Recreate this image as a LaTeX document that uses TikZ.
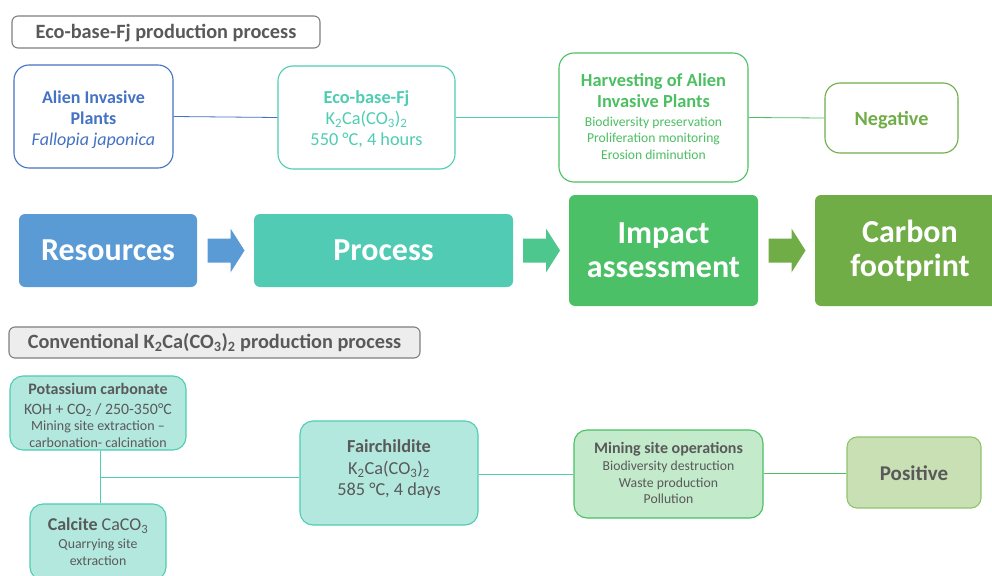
\documentclass[tikz,border=0pt]{standalone}
\usepackage{fontspec}
\setmainfont{Carlito}
\usetikzlibrary{calc}
\definecolor{cblue}{HTML}{4472C4}
\definecolor{cteal}{HTML}{4FCDB2}
\definecolor{cgreen}{HTML}{4CBF62}
\definecolor{colive}{HTML}{70AD47}
\definecolor{fres}{HTML}{5B9BD5}
\definecolor{fproc}{HTML}{52CBB5}
\definecolor{fimp}{HTML}{4CC066}
\definecolor{ltteal}{HTML}{B3E8DF}
\definecolor{ltgreen}{HTML}{C3EACB}
\definecolor{ltolive}{HTML}{C9E0B5}
\definecolor{bdolive}{HTML}{8FC46E}
\definecolor{dgray}{HTML}{595959}
\definecolor{bgray}{HTML}{7F7F7F}
\definecolor{lgray}{HTML}{EDEDED}
\definecolor{arrteal}{HTML}{4DC78E}
\tikzset{
  x=1pt, y=-1pt,
  titlebox/.style={draw=bgray, line width=1.1pt, rounded corners=6pt, text=dgray,
    font=\fontsize{20.3}{22}\selectfont\bfseries, inner sep=0pt},
  topbox/.style={draw=#1, line width=1.1pt, rounded corners=15pt, fill=white, inner sep=0pt},
  midbox/.style={fill=#1, rounded corners=6pt, text=white, align=center, inner sep=0pt,
    font=\fontsize{32}{34}\selectfont\bfseries},
  botbox/.style={fill=#1, line width=1.1pt, rounded corners=13pt, inner sep=0pt},
  lbl/.style={text=#1, align=center, inner sep=0pt},
  link/.style={line width=0.8pt, draw=#1},
}
\begin{document}
\begin{tikzpicture}
\useasboundingbox (0,0) rectangle (992,575);
\clip (0,0) rectangle (992,575);
\fill[white] (0,0) rectangle (992,575);

% ---- top section
\node[titlebox, fill=white, minimum width=308pt, minimum height=32pt] (t1) at (166,32) {};
\node[lbl=dgray, font=\fontsize{20.3}{22}\selectfont\bfseries] at ($(t1.center)+(0,1.5)$) {Eco-base-Fj production process};

\node[topbox=cblue, minimum width=159pt, minimum height=103pt] (alien) at (93.5,116.5) {};
\node[lbl=cblue, font=\fontsize{18}{21}\selectfont] at ($(alien.center)+(0,3)$)
  {\textbf{Alien Invasive}\\\textbf{Plants}\\\textit{Fallopia japonica}};
\node[topbox=cteal, minimum width=177pt, minimum height=103pt] (eco) at (366.5,117.5) {};
\node[lbl=cteal, font=\fontsize{18.3}{21}\selectfont] at ($(eco.center)+(0,2)$)
  {\textbf{Eco-base-Fj}\\K\textsubscript{2}Ca(CO\textsubscript{3})\textsubscript{2}\\550 °C, 4 hours};
\node[topbox=cgreen, minimum width=189pt, minimum height=129pt] (harv) at (653.5,117.5) {};
\node[lbl=cgreen, font=\fontsize{13.6}{16.5}\selectfont] at ($(harv.center)+(0,-1)$)
  {{\fontsize{18.4}{16.5}\selectfont\bfseries Harvesting of Alien}\\[4.5pt]
   {\fontsize{18.4}{16.5}\selectfont\bfseries Invasive Plants}\\[2pt]
   Biodiversity preservation\\Proliferation monitoring\\Erosion diminution};
\node[topbox=colive, minimum width=133pt, minimum height=70pt] (neg) at (891.5,118) {};
\node[lbl=colive, font=\fontsize{20.2}{22}\selectfont\bfseries] at ($(neg.center)+(0,2)$) {Negative};

\draw[link=cblue] (alien.east) -- (eco.west);
\draw[link=cteal] (eco.east) -- (harv.west);
\draw[link=cgreen] (harv.east) -- (neg.west);

% ---- middle section
\node[midbox=fres, minimum width=178pt, minimum height=73pt] (res) at (108,250.5) {Resources};
\node[midbox=fproc, minimum width=259pt, minimum height=73pt] (proc) at (383.5,250.5) {Process};
\node[midbox=fimp, minimum width=189pt, minimum height=111pt] (imp) at (663.5,250.5) {Impact\\assessment};
\node[midbox=colive, minimum width=190pt, minimum height=111pt] (carb) at (910,250.5) {Carbon\\footprint};

\coordinate (a1) at ($(res.east)!0.5!(proc.west)$);
\coordinate (a2) at ($(proc.east)!0.5!(imp.west)$);
\coordinate (a3) at ($(imp.east)!0.5!(carb.west)$);
\foreach \c/\col in {a1/fres, a2/arrteal, a3/colive}{
  \fill[\col] ($(\c)+(-18,-12)$) -- ($(\c)+(5,-12)$) -- ($(\c)+(5,-22)$) -- ($(\c)+(19,0)$)
     -- ($(\c)+(5,22)$) -- ($(\c)+(5,12)$) -- ($(\c)+(-18,12)$) -- cycle;
}

% ---- bottom section
\node[titlebox, fill=lgray, minimum width=411pt, minimum height=31pt] (t2) at (214.5,342.5)
  {Conventional K\textsubscript{2}Ca(CO\textsubscript{3})\textsubscript{2} production process};

\node[botbox=ltteal, draw=cteal, minimum width=176pt, minimum height=74pt] (pot) at (98,413) {};
\node[lbl=dgray, font=\fontsize{14}{16.5}\selectfont] at ($(pot.center)+(0,2.5)$)
  {{\fontsize{16}{16}\selectfont\bfseries Potassium carbonate}\\[3pt]
   {\fontsize{15.8}{16}\selectfont KOH + CO\textsubscript{2} / 250-350°C}\\
   Mining site extraction –\\carbonation- calcination};
\node[botbox=ltteal, draw=cteal, minimum width=136pt, minimum height=76pt] (cal) at (98,542) {};
\node[lbl=dgray, font=\fontsize{13.8}{17}\selectfont] at (cal.center)
  {{\fontsize{18}{17}\selectfont\textbf{Calcite} CaCO\textsubscript{3}}\\[1pt]Quarrying site\\extraction};
\node[botbox=ltteal, draw=cteal, minimum width=178pt, minimum height=104pt] (fair) at (389,473) {};
\node[lbl=dgray, font=\fontsize{18.3}{21.5}\selectfont] at ($(fair.center)+(0,-3.5)$)
  {\textbf{Fairchildite}\\K\textsubscript{2}Ca(CO\textsubscript{3})\textsubscript{2}\\585 °C, 4 days};
\node[botbox=ltgreen, draw=cgreen, minimum width=189pt, minimum height=88pt] (mine) at (668.5,474) {};
\node[lbl=dgray, font=\fontsize{13.7}{16.5}\selectfont] at ($(mine.center)+(0,-1)$)
  {{\fontsize{16}{16.5}\selectfont\bfseries Mining site operations}\\[1pt]
   Biodiversity destruction\\Waste production\\Pollution};
\node[botbox=ltolive, draw=bdolive, minimum width=134pt, minimum height=71pt, rounded corners=10pt] (pos) at (914,472.5) {};
\node[lbl=dgray, font=\fontsize{21}{22}\selectfont\bfseries] at ($(pos.center)+(0,1)$) {Positive};

\coordinate (j) at (100,477);
\draw[link=cteal] (pot.south -| j) -- (cal.north -| j);
\draw[link=cteal] (j) -- (j -| fair.west);
\draw[link=cteal] (fair.east |- 0,474) -- (mine.west |- 0,474);
\draw[link=cgreen] (mine.east |- 0,473.5) -- (pos.west |- 0,473.5);
\end{tikzpicture}
\end{document}
